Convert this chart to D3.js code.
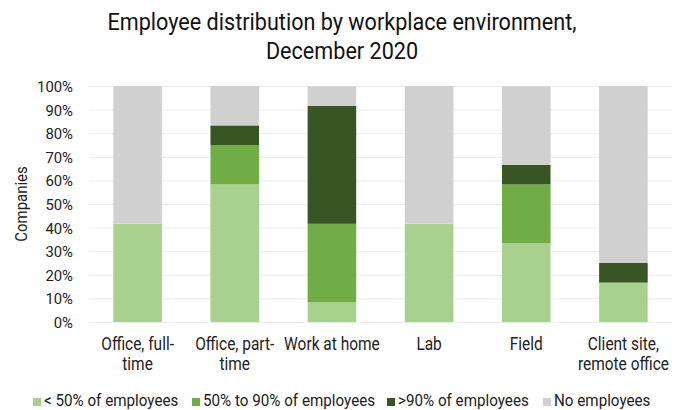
<!DOCTYPE html>
<html>
<head>
<meta charset="utf-8">
<script src="https://cdn.jsdelivr.net/npm/d3@7"></script>
<style>
  html, body { margin: 0; padding: 0; background: #fff; }
  svg { display: block; font-family: Roboto, "Noto Sans", sans-serif; }
</style>
</head>
<body>
<svg id="chart" width="683" height="410"></svg>
<script>
// Workplace environments (x categories) and their wrapped tick labels
const categories = ["Office, full-time", "Office, part-time", "Work at home", "Lab", "Field", "Client site, remote office"];
const categoryLines = [
  ["Office, full-", "time"],
  ["Office, part-", "time"],
  ["Work at home"],
  ["Lab"],
  ["Field"],
  ["Client site,", "remote office"]
];

// Share of companies (%) in each employee band
const lessThan50 = [41.7, 58.3, 8.3, 41.7, 33.3, 16.7];
const from50to90 = [0, 16.7, 33.3, 0, 25.0, 0];
const over90 = [0, 8.3, 50.0, 0, 8.3, 8.3];
const noEmployees = [58.3, 16.7, 8.3, 58.3, 33.3, 75.0];

const seriesNames = ["< 50% of employees", "50% to 90% of employees", ">90% of employees", "No employees"];
const seriesColors = ["#a9d18e", "#70ad47", "#375623", "#d0d0d0"];
const yTicks = [0, 10, 20, 30, 40, 50, 60, 70, 80, 90, 100];

const titleLines = ["Employee distribution by workplace environment,", "December 2020"];
const yTitle = "Companies";

// Narrow text look: squeeze glyphs horizontally by factor k
function squeeze(sel, x, y, k) {
  sel.attr("x", 0).attr("y", 0)
     .attr("transform", `translate(${x},${y}) scale(${k},1)`);
}

const svg = d3.select("#chart");
const plotLeft = 89, plotRight = 672, plotTop = 86, plotBottom = 322;

const rows = categories.map((c, i) => ({
  category: c,
  s0: lessThan50[i], s1: from50to90[i], s2: over90[i], s3: noEmployees[i]
}));
const keys = ["s0", "s1", "s2", "s3"];
const stacked = d3.stack().keys(keys)(rows);

const x = d3.scaleBand().domain(categories).range([plotLeft, plotRight])
  .paddingInner(0.5).paddingOuter(0.25);
const y = d3.scaleLinear().domain([0, 100]).range([plotBottom, plotTop]);

// Horizontal gridlines + y tick labels
const yAxis = svg.append("g")
  .attr("transform", `translate(${plotLeft},0)`)
  .call(d3.axisLeft(y).tickValues(yTicks).tickSize(-(plotRight - plotLeft)).tickFormat(d => d + "%"));
yAxis.select(".domain").remove();
yAxis.selectAll(".tick line").attr("stroke", "#ececec").attr("stroke-width", 1);
yAxis.selectAll(".tick text").each(function () {
  const t = d3.select(this);
  t.attr("font-family", "Roboto").attr("font-size", 15.5).attr("fill", "#222")
   .attr("text-anchor", "end").attr("dy", "0.36em");
  squeeze(t, -16, 0, 0.96);
});

// Stacked bars
svg.append("g").selectAll("g")
  .data(stacked).join("g")
  .attr("fill", (d, i) => seriesColors[i])
  .selectAll("rect")
  .data(d => d).join("rect")
  .attr("x", d => x(d.data.category))
  .attr("width", x.bandwidth())
  .attr("y", d => y(d[1]))
  .attr("height", d => y(d[0]) - y(d[1]));

// Category labels
const xLab = svg.append("g").attr("font-size", 18).attr("fill", "#222").attr("text-anchor", "middle");
categories.forEach((c, i) => {
  const cx = x(c) + x.bandwidth() / 2;
  categoryLines[i].forEach((line, j) => {
    const t = xLab.append("text").text(line);
    squeeze(t, cx, 350 + j * 20, 0.86);
  });
});

// Y axis title
svg.append("text").text(yTitle)
  .attr("font-size", 17).attr("fill", "#222").attr("text-anchor", "middle")
  .attr("transform", "translate(27,204) rotate(-90) scale(0.88,1)");

// Title
const tg = svg.append("g").attr("font-size", 24).attr("fill", "#111").attr("text-anchor", "middle");
titleLines.forEach((line, i) => {
  squeeze(tg.append("text").text(line), 342, 30 + i * 29, 0.9);
});

// Legend
const legendX = [33, 192, 387, 543];
const legend = svg.append("g").attr("font-size", 16).attr("fill", "#222");
seriesNames.forEach((name, i) => {
  legend.append("rect").attr("x", legendX[i]).attr("y", 398)
    .attr("width", 8).attr("height", 8).attr("fill", seriesColors[i]);
  squeeze(legend.append("text").text(name), legendX[i] + 11, 406, 0.95);
});
</script>
</body>
</html>
